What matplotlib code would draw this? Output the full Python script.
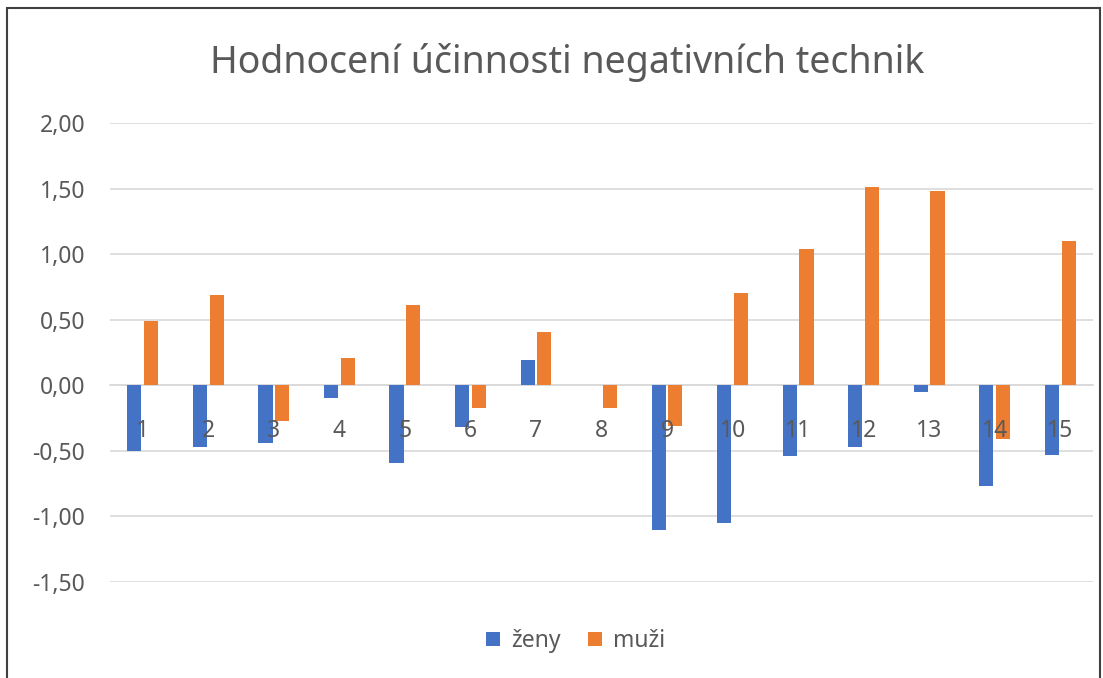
import numpy as np
import matplotlib
matplotlib.use("Agg")
import matplotlib.pyplot as plt
from matplotlib.ticker import FuncFormatter
from matplotlib.patches import Rectangle

categories = [str(i) for i in range(1, 16)]
zeny = [-0.50, -0.47, -0.44, -0.10, -0.59, -0.32, 0.19, 0.00, -1.10, -1.05, -0.54, -0.47, -0.05, -0.77, -0.53]
muzi = [0.49, 0.69, -0.27, 0.21, 0.61, -0.17, 0.41, -0.17, -0.31, 0.70, 1.04, 1.51, 1.48, -0.41, 1.10]
yticks = [-1.5, -1.0, -0.5, 0.0, 0.5, 1.0, 1.5, 2.0]

plt.rcParams['font.family'] = ['Noto Sans', 'DejaVu Sans']

fig = plt.figure(figsize=(11.03, 6.78), dpi=100)
ax = fig.add_axes([110 / 1103, 1 - 582 / 678, 983 / 1103, 459 / 678])

x = np.arange(len(categories))
w = 0.215
ax.bar(x - w / 2 - 0.02, zeny, w, color='#4472C4', label='ženy', zorder=3)
ax.bar(x + w / 2 + 0.02, muzi, w, color='#ED7D31', label='muži', zorder=3)

ax.set_xlim(-0.5, len(categories) - 0.5)
ax.set_ylim(-1.5, 2.0)
ax.set_yticks(yticks)
ax.yaxis.set_major_formatter(FuncFormatter(lambda v, p: f"{v:.2f}".replace('.', ',')))
ax.grid(axis='y', color='#D9D9D9', linewidth=1.2, zorder=0)

ax.set_xticks(x)
ax.set_xticklabels(categories)
for s in ['top', 'right', 'left']:
    ax.spines[s].set_visible(False)
ax.spines['bottom'].set_position(('data', 0))
ax.spines['bottom'].set_color('#D9D9D9')
ax.spines['bottom'].set_linewidth(1.2)
ax.spines['bottom'].set_zorder(1)
ax.tick_params(axis='x', length=0, pad=24, labelsize=16.5, labelcolor='#595959')
ax.tick_params(axis='y', length=0, pad=18, labelsize=16.5, labelcolor='#595959')
ax.xaxis.set_zorder(5)

fig.text(0.5145, 1 - 62 / 678, 'Hodnocení účinnosti negativních technik',
         ha='center', va='center', fontsize=27, color='#595959')

fig.legend(loc='center', bbox_to_anchor=(0.522, 1 - 641 / 678), ncol=2, frameon=False,
           fontsize=16.5, labelcolor='#595959', handlelength=0.6, handleheight=0.6,
           handletextpad=0.5, columnspacing=1.2)

fig.patches.append(Rectangle((7 / 1103, -0.05), 1093 / 1103, 1 - 8 / 678 + 0.05,
                             transform=fig.transFigure, fill=False,
                             edgecolor='#404040', linewidth=1.5))

fig.savefig('out.png', dpi=100)
